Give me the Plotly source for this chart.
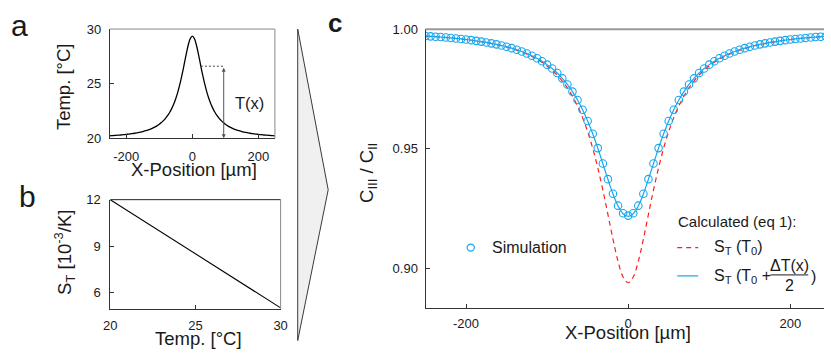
import plotly.graph_objects as go

# ---------------- data ----------------
x_um = [-250.0, -243.75, -237.5, -231.25, -225.0, -218.75, -212.5, -206.25, -200.0, -193.75,
        -187.5, -181.25, -175.0, -168.75, -162.5, -156.25, -150.0, -143.75, -137.5, -131.25,
        -125.0, -118.75, -112.5, -106.25, -100.0, -93.75, -87.5, -81.25, -75.0, -68.75,
        -62.5, -56.25, -50.0, -43.75, -37.5, -31.25, -25.0, -18.75, -12.5, -6.25,
        0.0,
        6.25, 12.5, 18.75, 25.0, 31.25, 37.5, 43.75, 50.0, 56.25, 62.5,
        68.75, 75.0, 81.25, 87.5, 93.75, 100.0, 106.25, 112.5, 118.75, 125.0,
        131.25, 137.5, 143.75, 150.0, 156.25, 162.5, 168.75, 175.0, 181.25, 187.5,
        193.75, 200.0, 206.25, 212.5, 218.75, 225.0, 231.25, 237.5, 243.75, 250.0]

temp_a = [20.233, 20.245, 20.258, 20.272, 20.287, 20.303, 20.320, 20.339, 20.360, 20.382,
          20.407, 20.434, 20.464, 20.497, 20.534, 20.575, 20.621, 20.672, 20.730, 20.795,
          20.869, 20.953, 21.049, 21.161, 21.290, 21.440, 21.616, 21.824, 22.071, 22.365,
          22.717, 23.140, 23.649, 24.257, 24.976, 25.806, 26.724, 27.666, 28.518, 29.127,
          29.350,
          29.127, 28.518, 27.666, 26.724, 25.806, 24.976, 24.257, 23.649, 23.140, 22.717,
          22.365, 22.071, 21.824, 21.616, 21.440, 21.290, 21.161, 21.049, 20.953, 20.869,
          20.795, 20.730, 20.672, 20.621, 20.575, 20.534, 20.497, 20.464, 20.434, 20.407,
          20.382, 20.360, 20.339, 20.320, 20.303, 20.287, 20.272, 20.258, 20.245, 20.233]

st_temp = [20, 30]
st_value = [12, 5]

ratio_st0 = [0.99720, 0.99706, 0.99691, 0.99675, 0.99657, 0.99638, 0.99617, 0.99594, 0.99569, 0.99543,
             0.99513, 0.99480, 0.99445, 0.99405, 0.99361, 0.99312, 0.99258, 0.99197, 0.99128, 0.99051,
             0.98963, 0.98863, 0.98749, 0.98618, 0.98464, 0.98287, 0.98079, 0.97835, 0.97546, 0.97202,
             0.96792, 0.96302, 0.95716, 0.95020, 0.94203, 0.93270, 0.92249, 0.91212, 0.90283, 0.89626,
             0.89386,
             0.89626, 0.90283, 0.91212, 0.92249, 0.93270, 0.94203, 0.95020, 0.95716, 0.96302, 0.96792,
             0.97202, 0.97546, 0.97835, 0.98079, 0.98287, 0.98464, 0.98618, 0.98749, 0.98863, 0.98963,
             0.99051, 0.99128, 0.99197, 0.99258, 0.99312, 0.99361, 0.99405, 0.99445, 0.99480, 0.99513,
             0.99543, 0.99569, 0.99594, 0.99617, 0.99638, 0.99657, 0.99675, 0.99691, 0.99706, 0.99720]

ratio_sthalf = [0.99722, 0.99708, 0.99693, 0.99677, 0.99660, 0.99641, 0.99620, 0.99598, 0.99574, 0.99548,
                0.99519, 0.99487, 0.99452, 0.99414, 0.99371, 0.99324, 0.99271, 0.99213, 0.99147, 0.99073,
                0.98989, 0.98895, 0.98787, 0.98664, 0.98522, 0.98358, 0.98169, 0.97949, 0.97693, 0.97393,
                0.97043, 0.96635, 0.96163, 0.95624, 0.95023, 0.94377, 0.93720, 0.93107, 0.92605, 0.92278,
                0.92164,
                0.92278, 0.92605, 0.93107, 0.93720, 0.94377, 0.95023, 0.95624, 0.96163, 0.96635, 0.97043,
                0.97393, 0.97693, 0.97949, 0.98169, 0.98358, 0.98522, 0.98664, 0.98787, 0.98895, 0.98989,
                0.99073, 0.99147, 0.99213, 0.99271, 0.99324, 0.99371, 0.99414, 0.99452, 0.99487, 0.99519,
                0.99548, 0.99574, 0.99598, 0.99620, 0.99641, 0.99660, 0.99677, 0.99693, 0.99708, 0.99722]

ratio_sim = [0.99720, 0.99707, 0.99692, 0.99676, 0.99659, 0.99640, 0.99619, 0.99597, 0.99573, 0.99547,
             0.99518, 0.99486, 0.99451, 0.99413, 0.99370, 0.99323, 0.99270, 0.99212, 0.99146, 0.99072,
             0.98988, 0.98894, 0.98786, 0.98663, 0.98521, 0.98357, 0.98168, 0.97948, 0.97692, 0.97392,
             0.97042, 0.96634, 0.96162, 0.95624, 0.95025, 0.94380, 0.93725, 0.93115, 0.92615, 0.92295,
             0.92200,
             0.92295, 0.92615, 0.93115, 0.93725, 0.94380, 0.95025, 0.95624, 0.96162, 0.96634, 0.97042,
             0.97392, 0.97692, 0.97948, 0.98168, 0.98357, 0.98521, 0.98663, 0.98786, 0.98894, 0.98988,
             0.99072, 0.99146, 0.99212, 0.99270, 0.99323, 0.99370, 0.99413, 0.99451, 0.99486, 0.99518,
             0.99547, 0.99573, 0.99597, 0.99619, 0.99640, 0.99659, 0.99676, 0.99692, 0.99707, 0.99720]

a_xticks, a_xlabels = [-200, 0, 200], ["-200", "0", "200"]
a_yticks, a_ylabels = [20, 25, 30], ["20", "25", "30"]
b_xticks, b_xlabels = [20, 25, 30], ["20", "25", "30"]
b_yticks, b_ylabels = [6, 9, 12], ["6", "9", "12"]
c_xticks, c_xlabels = [-200, 0, 200], ["-200", "0", "200"]
c_yticks, c_ylabels = [0.90, 0.95, 1.00], ["0.90", "0.95", "1.00"]

# ---------------- style ----------------
W, H = 831, 362
FONT = "Liberation Sans, Arial, Helvetica, sans-serif"
CYAN = "#16a6f0"
RED = "#ff1f1f"
AX = "#333333"
TXT = "#1a1a1a"


def px(x):
    return x / W


def py(y):
    return 1 - y / H


fig = go.Figure()

fig.add_trace(go.Scatter(x=x_um, y=temp_a, mode="lines",
                         line=dict(color="black", width=1.3, shape="spline"),
                         xaxis="x", yaxis="y", showlegend=False, hoverinfo="skip"))
fig.add_trace(go.Scatter(x=st_temp, y=st_value, mode="lines",
                         line=dict(color="black", width=1.1),
                         xaxis="x2", yaxis="y2", showlegend=False, hoverinfo="skip"))
fig.add_trace(go.Scatter(x=x_um, y=ratio_st0, mode="lines",
                         line=dict(color=RED, width=1.2, dash="5px,4px", shape="spline"),
                         xaxis="x3", yaxis="y3", showlegend=False, hoverinfo="skip"))
fig.add_trace(go.Scatter(x=x_um, y=ratio_sthalf, mode="lines",
                         line=dict(color=CYAN, width=1.2, shape="spline"),
                         xaxis="x3", yaxis="y3", showlegend=False, hoverinfo="skip"))
fig.add_trace(go.Scatter(x=x_um, y=ratio_sim, mode="markers",
                         marker=dict(symbol="circle-open", size=7.5, color=CYAN, line=dict(width=1.1)),
                         xaxis="x3", yaxis="y3", showlegend=False, hoverinfo="skip"))


def axis(domain, rng, tv, tt, anchor, standoff):
    return dict(domain=domain, range=rng, tickvals=tv, ticktext=tt, ticks="inside",
                ticklen=4, tickwidth=1, tickcolor=AX, showline=True, linecolor=AX,
                linewidth=1, showgrid=False, zeroline=False, anchor=anchor,
                tickfont=dict(family=FONT, size=13, color=TXT),
                ticklabelstandoff=standoff, fixedrange=True)


fig.update_layout(
    width=W, height=H, margin=dict(l=0, r=0, t=0, b=0),
    paper_bgcolor="white", plot_bgcolor="white", showlegend=False,
    font=dict(family=FONT, color=TXT),
    xaxis=axis([px(104.5), px(272.5)], [-250, 250], a_xticks, a_xlabels, "y", 6),
    yaxis=axis([py(137), py(23)], [20, 30], a_yticks, a_ylabels, "x", 5),
    xaxis2=axis([px(105), px(278.3)], [20, 30], b_xticks, b_xlabels, "y2", 4),
    yaxis2=axis([py(315), py(201)], [4.93, 12], b_yticks, b_ylabels, "x2", 6),
    xaxis3=axis([px(425.7), 1.0], [-250, 241.6], c_xticks, c_xlabels, "y3", 3),
    yaxis3=axis([py(314), py(23.3)], [0.8833, 1.0], c_yticks, c_ylabels, "x3", 4),
)

shapes = []
# frame borders
shapes.append(dict(type="line", xref="x domain", yref="y domain", x0=0, x1=1, y0=1, y1=1,
                   line=dict(color="#8a8a8a", width=1)))
shapes.append(dict(type="line", xref="x domain", yref="y domain", x0=1, x1=1, y0=0, y1=1,
                   line=dict(color="#8a8a8a", width=1)))
shapes.append(dict(type="line", xref="x2 domain", yref="y2 domain", x0=0, x1=1, y0=1, y1=1,
                   line=dict(color="#222222", width=1)))
shapes.append(dict(type="line", xref="x2 domain", yref="y2 domain", x0=1, x1=1, y0=0, y1=1,
                   line=dict(color="#8a8a8a", width=1)))
shapes.append(dict(type="line", xref="x3 domain", yref="y3 domain", x0=0, x1=1, y0=1, y1=1,
                   line=dict(color="#9a9a9a", width=2)))
# T(x) indicator in panel a
shapes.append(dict(type="line", xref="x", yref="y", x0=26, x1=95, y0=26.6, y1=26.6,
                   line=dict(color="#444444", width=1, dash="2px,2px")))
# big arrow between panels
shapes.append(dict(type="path", xref="paper", yref="paper",
                   path=f"M {px(295.7)},{py(23)} L {px(326.7)},{py(190.7)} L {px(295.7)},{py(348)} Z",
                   fillcolor="#f0f0f0", line=dict(color="#3a3a3a", width=1)))
# legend
shapes.append(dict(type="circle", xref="paper", yref="paper",
                   x0=px(468.0), x1=px(475.4), y0=py(254.7), y1=py(247.3),
                   line=dict(color=CYAN, width=1.2)))
shapes.append(dict(type="line", xref="paper", yref="paper", x0=px(681.7), x1=px(703), y0=py(251), y1=py(251),
                   line=dict(color=RED, width=1.2, dash="5px,4px")))
shapes.append(dict(type="line", xref="paper", yref="paper", x0=px(681.7), x1=px(703), y0=py(280.5), y1=py(280.5),
                   line=dict(color=CYAN, width=1.2)))
shapes.append(dict(type="line", xref="paper", yref="paper", x0=px(776.5), x1=px(815), y0=py(279.5), y1=py(279.5),
                   line=dict(color=TXT, width=1)))
fig.update_layout(shapes=shapes)

ann = []


def txt(x, y, s, size, xa="center", ya="middle", angle=0, family=FONT):
    ann.append(dict(x=px(x), y=py(y), xref="paper", yref="paper", text=s, showarrow=False,
                    xanchor=xa, yanchor=ya, textangle=angle,
                    font=dict(family=family, size=size, color=TXT)))


# panel labels
txt(13, 19, "a", 30)
txt(21, 198, "b", 30)
txt(334, 17, "<b>c</b>", 26)
# axis titles
txt(190, 170, "X-Position [µm]", 18.5)
txt(57, 83.5, "Temp. [°C]", 18.5, angle=-90)
txt(195, 346, "Temp. [°C]", 18.5)
txt(59, 256.5, "S<sub>T</sub> [10<sup>-3</sup>/K]", 18.5, angle=-90)
txt(632, 340, "X-Position [µm]", 18.5)
txt(367, 173.3, "C<sub>III</sub> / C<sub>II</sub>", 18.5, angle=-90)
# panel a annotation
txt(246.7, 100, "T(x)", 16.5)
# legend texts
txt(491.5, 251, "Simulation", 16, xa="left")
txt(680, 224, "Calculated (eq 1):", 15, xa="left")
txt(717, 251, "S<sub>T</sub> (T<sub>0</sub>)", 16, xa="left")
txt(717, 281, "S<sub>T</sub> (T<sub>0</sub> +", 16, xa="left")
txt(795.8, 270, "ΔT(x)", 16)
txt(795.8, 290.5, "2", 16)
txt(820, 281, ")", 16)

# double-headed arrow for T(x)
ann.append(dict(x=95, y=20, ax=95, ay=26.6, xref="x", yref="y", axref="x", ayref="y",
                showarrow=True, arrowhead=2, arrowside="end+start", arrowsize=0.8,
                arrowwidth=1, arrowcolor="#555555", text=""))

fig.update_layout(annotations=ann)

fig.write_html("out.html")
